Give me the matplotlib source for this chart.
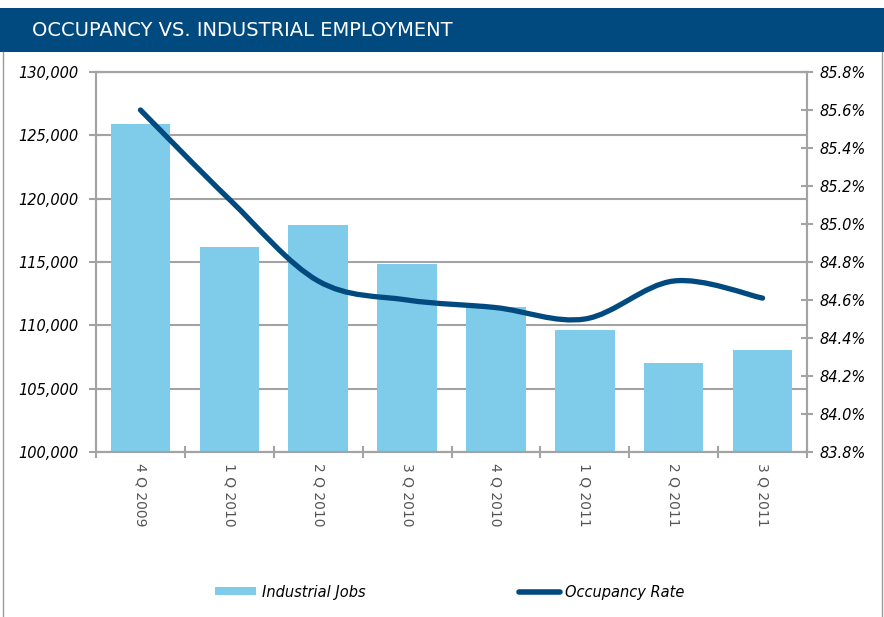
import numpy as np
import matplotlib
matplotlib.use("Agg")
import matplotlib.pyplot as plt
from matplotlib.path import Path
from matplotlib.patches import PathPatch, Rectangle, Patch
from matplotlib.lines import Line2D
from matplotlib.ticker import FuncFormatter, MultipleLocator

# data
quarters = ["4 Q 2009", "1 Q 2010", "2 Q 2010", "3 Q 2010",
            "4 Q 2010", "1 Q 2011", "2 Q 2011", "3 Q 2011"]
industrial_jobs = [125900, 116150, 117900, 114850, 111450, 109600, 107000, 108050]
occupancy_rate = [85.60, 85.13, 84.70, 84.60, 84.56, 84.50, 84.70, 84.61]

BAR_COLOR = "#7ecbea"
LINE_COLOR = "#014a80"
GRID_COLOR = "#a3a3a3"


def smooth_path(xs, ys):
    # excel style smoothed line, built as cubic bezier segments
    pts = np.column_stack([xs, ys]).astype(float)
    n = len(pts)
    verts = [pts[0]]
    codes = [Path.MOVETO]
    for i in range(n - 1):
        p0 = pts[i - 1] if i > 0 else pts[i]
        p1 = pts[i]
        p2 = pts[i + 1]
        p3 = pts[i + 2] if i + 2 < n else pts[i + 1]
        c1 = p1 + (p2 - p0) / 6.0
        c2 = p2 - (p3 - p1) / 6.0
        verts += [c1, c2, p2]
        codes += [Path.CURVE4] * 3
    return Path(verts, codes)


fig = plt.figure(figsize=(8.84, 6.17), dpi=100)

# header band + frame
fig.patches.append(Rectangle((0, 1 - 52 / 617), 1, 44 / 617, transform=fig.transFigure,
                             facecolor=LINE_COLOR, edgecolor="none", zorder=0))
fig.text(32 / 884, 1 - 30 / 617, "OCCUPANCY VS. INDUSTRIAL EMPLOYMENT", color="white",
         fontsize=14, va="center", ha="left", family="DejaVu Sans")
fig.add_artist(Line2D([2.5 / 884, 2.5 / 884], [0, 1 - 52 / 617], transform=fig.transFigure,
                      color="#9a9a9a", lw=1))
fig.add_artist(Line2D([881.5 / 884, 881.5 / 884], [0, 1 - 52 / 617], transform=fig.transFigure,
                      color="#9a9a9a", lw=1))

ax = fig.add_axes([96 / 884, 1 - 452 / 617, 711 / 884, 380 / 617])
x = np.arange(len(quarters))
ax.bar(x, industrial_jobs, width=0.67, color=BAR_COLOR, zorder=2)
ax.set_xlim(-0.5, len(quarters) - 0.5)
ax.set_ylim(100000, 130000)
ax.yaxis.set_major_locator(MultipleLocator(5000))
ax.yaxis.set_major_formatter(FuncFormatter(lambda v, p: "{:,.0f}".format(v)))
ax.grid(axis="y", color=GRID_COLOR, lw=1.5, zorder=1)
ax.set_axisbelow(True)

ax.set_xticks(np.arange(len(quarters) + 1) - 0.5)
ax.set_xticklabels([])
ax.set_xticks(x, minor=True)
ax.set_xticklabels(quarters, minor=True, rotation=270, color="#555555", fontsize=10)
ax.tick_params(axis="x", which="minor", length=0, pad=8)
ax.tick_params(axis="x", which="major", direction="inout", length=8, color=GRID_COLOR, width=1.5)
ax.tick_params(axis="y", direction="inout", length=10, color=GRID_COLOR, width=1.5,
               labelsize=10.5, pad=8)
for lab in ax.get_yticklabels():
    lab.set_style("italic")
for s in ax.spines.values():
    s.set_color(GRID_COLOR)
    s.set_linewidth(1.5)

ax2 = ax.twinx()
ax2.set_ylim(83.8, 85.8)
ax2.yaxis.set_major_locator(MultipleLocator(0.2))
ax2.yaxis.set_major_formatter(FuncFormatter(lambda v, p: "{:.1f}%".format(v)))
ax2.tick_params(axis="y", direction="inout", length=8, color=GRID_COLOR, width=1.5,
                labelsize=10.5, pad=5)
for lab in ax2.get_yticklabels():
    lab.set_style("italic")
for s in ax2.spines.values():
    s.set_color(GRID_COLOR)
    s.set_linewidth(1.5)
ax2.add_patch(PathPatch(smooth_path(x, occupancy_rate), facecolor="none", edgecolor=LINE_COLOR,
                        lw=3.8, capstyle="round", joinstyle="round", zorder=3))

handles = [Patch(facecolor=BAR_COLOR, edgecolor="none"),
           Line2D([], [], color=LINE_COLOR, lw=4, solid_capstyle="round")]
leg = fig.legend(handles, ["Industrial Jobs", "Occupancy Rate"], ncol=2, loc="center",
                 bbox_to_anchor=(450 / 884, 1 - 592 / 617), frameon=False,
                 handlelength=2.8, handleheight=0.5, handletextpad=0.4, columnspacing=10.5,
                 prop={"style": "italic", "size": 10.5})

fig.savefig("out.png", dpi=100)
